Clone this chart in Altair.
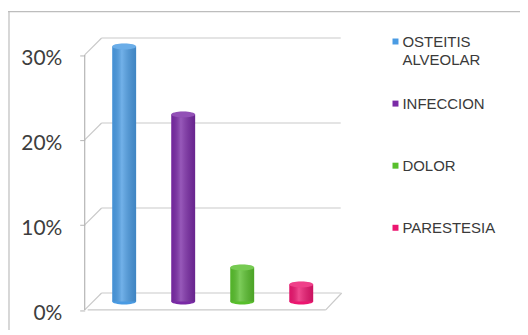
import altair as alt
import pandas as pd

categories = ["OSTEITIS ALVEOLAR", "INFECCION", "DOLOR", "PARESTESIA"]
values = [30, 22, 4, 2]
legend_lines = ["OSTEITIS\nALVEOLAR", "INFECCION", "DOLOR", "PARESTESIA"]
colors = ["#4a9be3", "#7a2aa6", "#58bf2c", "#ec1670"]
grid_values = [0, 10, 20, 30]

df = pd.DataFrame({"cat": categories, "value": values, "label": legend_lines,
                   "order": list(range(len(categories)))})
grid = pd.DataFrame({"v": grid_values})
floor = pd.DataFrame({"v": [0]})
axis_span = pd.DataFrame({"a": [0], "b": [30]})

yscale = alt.Scale(domain=[0, 30], nice=False, zero=True)
cscale = alt.Scale(domain=categories, range=colors)
xscale = alt.Scale(domain=categories, paddingInner=0, paddingOuter=0)
GRID = "#c9c9c9"
D = 8.5  # half depth of the 3D box

# back-wall gridlines
back = alt.Chart(grid).mark_rule(color=GRID, strokeWidth=1.2, yOffset=-D).encode(
    y=alt.Y("v:Q", scale=yscale, axis=alt.Axis(
        values=grid_values, labelExpr="datum.value + '%'",
        domain=False, grid=False, offset=10, tickOffset=D, labelOffset=4,
        tickSize=5, tickColor="#b5b5b5", labelPadding=18,
        labelFont="Lato", labelFontSize=21, labelColor="#3d3d3d", title=None)),
    x=alt.value(7), x2=alt.value(247))

# diagonals from front axis to back wall
diag = alt.Chart(grid).mark_rule(color=GRID, strokeWidth=1.2, yOffset=D, y2Offset=-D).encode(
    y=alt.Y("v:Q", scale=yscale), y2="v:Q", x=alt.value(-10), x2=alt.value(7))

# front floor edge and right diagonal
front_floor = alt.Chart(floor).mark_rule(color=GRID, strokeWidth=1.2, yOffset=D).encode(
    y=alt.Y("v:Q", scale=yscale), x=alt.value(-7), x2=alt.value(232))
right_diag = alt.Chart(floor).mark_rule(color=GRID, strokeWidth=1.2, yOffset=D, y2Offset=-D).encode(
    y=alt.Y("v:Q", scale=yscale), y2="v:Q", x=alt.value(232), x2=alt.value(248))

# front vertical axis line
front_axis = alt.Chart(axis_span).mark_rule(color="#b5b5b5", strokeWidth=1.2, yOffset=D, y2Offset=D).encode(
    y=alt.Y("a:Q", scale=yscale), y2="b:Q", x=alt.value(-10))

# chart border (scan frame)
frame_top = alt.Chart(floor).mark_rule(color="#bdbdbd", strokeWidth=1.2).encode(
    x=alt.value(-87), x2=alt.value(440), y=alt.value(-35))
frame_left = alt.Chart(floor).mark_rule(color="#bdbdbd", strokeWidth=1.2).encode(
    x=alt.value(-86), y=alt.value(-35), y2=alt.value(300))

ELLIPSE = "M -1 0 A 1 0.25 0 1 1 1 0 A 1 0.25 0 1 1 -1 0 Z"
xenc = alt.X("cat:N", scale=xscale, sort=categories, axis=None)
cenc = alt.Color("cat:N", scale=cscale, legend=None)

bars = alt.Chart(df).mark_bar(size=24).encode(
    x=xenc, y=alt.Y("value:Q", scale=yscale), y2=alt.datum(0), color=cenc)
shade = alt.Chart(df).mark_bar(size=24, color={
    "gradient": "linear", "x1": 0, "y1": 0, "x2": 1, "y2": 0,
    "stops": [{"offset": 0, "color": "rgba(0,0,0,0.06)"},
              {"offset": 0.4, "color": "rgba(255,255,255,0.22)"},
              {"offset": 1, "color": "rgba(0,0,0,0.14)"}]}).encode(
    x=xenc, y=alt.Y("value:Q", scale=yscale), y2=alt.datum(0))
bottom_cap = alt.Chart(df).mark_point(shape=ELLIPSE, size=576, filled=True, opacity=1).encode(
    x=xenc, y=alt.Y("zero:Q", scale=yscale), color=cenc).transform_calculate(zero="0")
top_cap = alt.Chart(df).mark_point(shape=ELLIPSE, size=576, filled=True, opacity=1).encode(
    x=xenc, y=alt.Y("value:Q", scale=yscale), color=cenc)
top_hl = alt.Chart(df).mark_point(shape=ELLIPSE, size=576, filled=True, color="white", opacity=0.18).encode(
    x=xenc, y=alt.Y("value:Q", scale=yscale))

lscale = alt.Scale(type="point", domain=list(range(len(categories))), range=[-5, 182], padding=0)
leg_sym = alt.Chart(df).mark_square(size=36, opacity=1).encode(
    x=alt.value(302), y=alt.Y("order:O", scale=lscale, axis=None), color=cenc)
leg_txt = alt.Chart(df).mark_text(align="left", baseline="top", dy=-6.5, font="Liberation Sans",
                                  fontSize=15, lineBreak="\n", lineHeight=18, color="#3a3a3a").encode(
    x=alt.value(309), y=alt.Y("order:O", scale=lscale, axis=None), text="label:N")

main = alt.layer(frame_top, frame_left, back, diag, front_floor, right_diag, front_axis,
                 bars, bottom_cap, shade, top_cap, top_hl)
legend = alt.layer(leg_sym, leg_txt)

chart = alt.layer(main, legend).resolve_scale(y="independent").properties(
    width=237, height=256,
    autosize=alt.AutoSizeParams(type="none"),
    padding={"left": 87, "top": 38, "right": 190, "bottom": 28},
    background="white",
).configure_view(stroke=None)

chart.save("out.html", embed_options={"renderer": "svg", "actions": False})
